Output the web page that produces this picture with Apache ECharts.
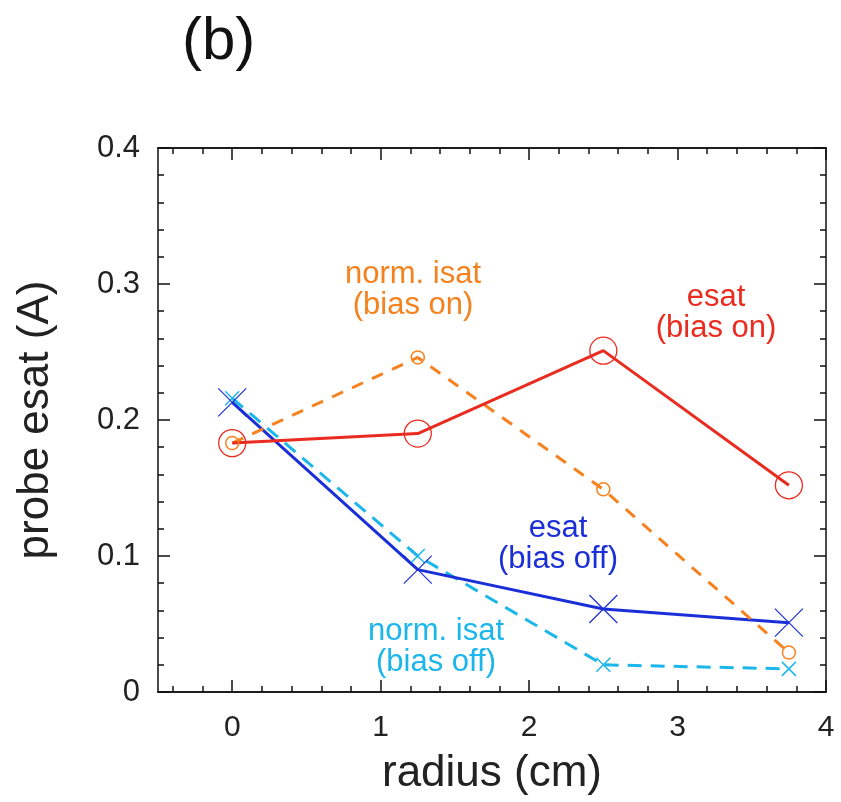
<!DOCTYPE html>
<html>
<head>
<meta charset="utf-8">
<script src="https://cdn.jsdelivr.net/npm/echarts@6/dist/echarts.min.js"></script>
<style>
  html, body { margin: 0; padding: 0; background: #fff; }
  #chart { width: 841px; height: 802px; }
</style>
</head>
<body>
<div id="chart"></div>
<script>
// radius positions (cm)
const radius = [0, 1.25, 2.5, 3.75];

// probe currents (A)
const esatBiasOn = [0.183, 0.190, 0.251, 0.152];
const isatBiasOn = [0.183, 0.246, 0.149, 0.029];
const esatBiasOff = [0.213, 0.090, 0.061, 0.051];
const isatBiasOff = [0.216, 0.100, 0.020, 0.017];

const xMajorTicks = [0, 1, 2, 3, 4];
const xMinorTicks = [-0.4, -0.2, 0.2, 0.4, 0.6, 0.8, 1.2, 1.4, 1.6, 1.8,
  2.2, 2.4, 2.6, 2.8, 3.2, 3.4, 3.6, 3.8];

const font = '"Liberation Sans", Arial, Helvetica, sans-serif';
const RED = '#ea2b1f';
const ORANGE = '#f5821f';
const BLUE = '#1b2fd8';
const CYAN = '#1cb7ea';
const CROSS = 'path://M0,0L10,10M10,0L0,10';

const toPairs = ys => radius.map((x, i) => [x, ys[i]]);

const chart = echarts.init(document.getElementById('chart'));

function xAxisBase(position, ticks, len, showLabel, extra) {
  return Object.assign({
    type: 'value',
    position: position,
    min: -0.5,
    max: 4,
    splitLine: { show: false },
    axisLine: { show: true, onZero: false, lineStyle: { color: '#111', width: 1.5 } },
    axisTick: { show: true, inside: true, length: len, customValues: ticks, lineStyle: { color: '#111', width: 1.5 } },
    axisLabel: showLabel
      ? { show: true, customValues: ticks, fontSize: 30, color: '#222', fontFamily: font, margin: 21 }
      : { show: false }
  }, extra || {});
}

function yAxisBase(position, showLabel, extra) {
  return Object.assign({
    type: 'value',
    position: position,
    min: 0,
    max: 0.4,
    interval: 0.1,
    splitLine: { show: false },
    axisLine: { show: true, onZero: false, lineStyle: { color: '#111', width: 1.5 } },
    axisTick: { show: true, inside: true, length: 12, lineStyle: { color: '#111', width: 1.5 } },
    minorTick: { show: true, splitNumber: 5, length: 6, lineStyle: { color: '#111', width: 1.5 } },
    axisLabel: showLabel
      ? { show: true, fontSize: 31, color: '#222', fontFamily: font, margin: 18,
          formatter: v => (v === 0 ? '0' : v.toFixed(1)) }
      : { show: false }
  }, extra || {});
}

function note(text, x, y, color) {
  return {
    type: 'text', x: x, y: y,
    style: { text: text, fontSize: 31, lineHeight: 31, fill: color, fontFamily: font,
             textAlign: 'center', textVerticalAlign: 'middle' }
  };
}

const option = {
  backgroundColor: '#fff',
  animation: false,
  grid: { left: 158, top: 148, right: 15, bottom: 110, outerBoundsMode: 'none', containLabel: false },
  xAxis: [
    xAxisBase('bottom', xMajorTicks, 12, true, {
      name: 'radius (cm)',
      nameLocation: 'middle',
      nameGap: 60,
      nameMoveOverlap: false,
      nameTextStyle: { fontSize: 44, color: '#222', fontFamily: font }
    }),
    xAxisBase('bottom', xMinorTicks, 6, false),
    xAxisBase('top', xMajorTicks, 12, false),
    xAxisBase('top', xMinorTicks, 6, false)
  ],
  yAxis: [
    yAxisBase('left', true, {
      name: 'probe esat (A)',
      nameLocation: 'middle',
      nameGap: 100,
      nameMoveOverlap: false,
      nameTextStyle: { fontSize: 44, color: '#222', fontFamily: font }
    }),
    yAxisBase('right', false)
  ],
  graphic: [
    { type: 'text', left: 182, top: 12,
      style: { text: '(b)', fontSize: 60, fill: '#111', fontFamily: font } },
    note('norm. isat\n(bias on)', 413, 290, ORANGE),
    note('esat\n(bias on)', 716, 313, RED),
    note('esat\n(bias off)', 558, 544, BLUE),
    note('norm. isat\n(bias off)', 436, 647, CYAN)
  ],
  series: [
    {
      name: 'norm. isat (bias off)',
      type: 'line',
      data: toPairs(isatBiasOff),
      symbol: CROSS,
      symbolSize: 14,
      lineStyle: { color: CYAN, width: 3, type: [14, 9] },
      itemStyle: { color: 'none', borderColor: CYAN, borderWidth: 1.5 }
    },
    {
      name: 'esat (bias off)',
      type: 'line',
      data: toPairs(esatBiasOff),
      symbol: CROSS,
      symbolSize: 28,
      lineStyle: { color: BLUE, width: 3 },
      itemStyle: { color: 'none', borderColor: BLUE, borderWidth: 1.2 }
    },
    {
      name: 'norm. isat (bias on)',
      type: 'line',
      data: toPairs(isatBiasOn),
      symbol: 'circle',
      symbolSize: 13,
      lineStyle: { color: ORANGE, width: 3, type: [12, 10] },
      itemStyle: { color: 'none', borderColor: ORANGE, borderWidth: 1.5 }
    },
    {
      name: 'esat (bias on)',
      type: 'line',
      data: toPairs(esatBiasOn),
      symbol: 'circle',
      symbolSize: 27,
      lineStyle: { color: RED, width: 3 },
      itemStyle: { color: 'none', borderColor: RED, borderWidth: 1.3 }
    }
  ]
};

chart.setOption(option);
</script>
</body>
</html>
